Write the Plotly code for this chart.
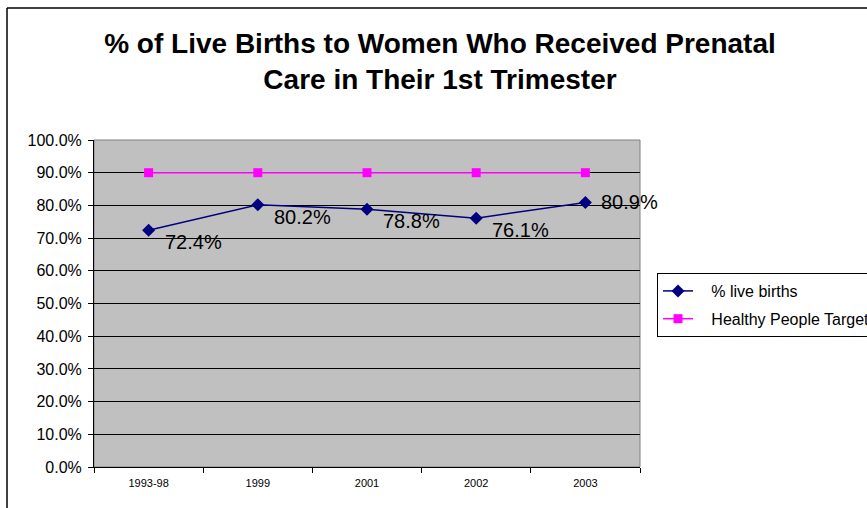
import plotly.graph_objects as go

categories = ["1993-98", "1999", "2001", "2002", "2003"]
live_births = [72.4, 80.2, 78.8, 76.1, 80.9]
target = [90.0, 90.0, 90.0, 90.0, 90.0]
label_dy = [-12, -12, -12, -12, 0]
series_names = ["% live births", "Healthy People Target"]

W, H = 867, 508
L, R, T, B = 94, 227, 140, 41
pw, ph = W - L - R, H - T - B

def px_x(p):
    return (p - L) / pw

def px_y(p):
    return (H - B - p) / ph

pad = "\u00a0" * 3

fig = go.Figure()
fig.add_trace(go.Scatter(
    x=categories, y=live_births, name=pad + series_names[0], mode="lines+markers",
    legendgroup="a",
    line=dict(color="#000080", width=1.5),
    marker=dict(symbol="diamond", size=10, color="#000080"),
))
fig.add_trace(go.Scatter(
    x=categories, y=target, name=pad + series_names[1], mode="lines+markers",
    legendgroup="b",
    line=dict(color="#FF00FF", width=1.5),
    marker=dict(symbol="square", size=9, color="#FF00FF"),
))

for i, (v, dy) in enumerate(zip(live_births, label_dy)):
    fig.add_annotation(x=i, y=v, text=f"{v:.1f}%", showarrow=False,
                       xanchor="left", yanchor="middle", xshift=14, yshift=dy,
                       font=dict(family="Liberation Sans, Arial", size=20, color="black"))

# chart border (left and top)
fig.add_shape(type="line", xref="paper", yref="paper",
              x0=px_x(7), x1=px_x(870), y0=px_y(8), y1=px_y(8),
              line=dict(color="black", width=1.5))
fig.add_shape(type="line", xref="paper", yref="paper",
              x0=px_x(7), x1=px_x(7), y0=px_y(8), y1=px_y(520),
              line=dict(color="black", width=1.5))
# plot area border
fig.add_shape(type="rect", xref="paper", yref="paper", x0=0, x1=1, y0=0, y1=1,
              line=dict(color="#808080", width=1), layer="below")

fig.update_layout(
    width=W, height=H,
    margin=dict(l=L, r=R, t=T, b=B, autoexpand=False),
    paper_bgcolor="white", plot_bgcolor="#C0C0C0",
    font=dict(family="Liberation Sans, Arial", color="black"),
    title=dict(text="<b>% of Live Births to Women Who Received Prenatal<br>Care in Their 1st Trimester</b>",
               x=440 / W, xanchor="center", y=1 - 53 / H, yanchor="top",
               font=dict(size=28, family="Liberation Sans, Arial", color="black")),
    showlegend=True,
    legend=dict(x=px_x(657), y=px_y(273), xanchor="left", yanchor="top",
                bgcolor="white", bordercolor="black", borderwidth=1,
                font=dict(size=16, family="Liberation Sans, Arial", color="black"),
                tracegroupgap=4, traceorder="grouped"),
)
fig.update_xaxes(type="category", tickson="boundaries", ticks="outside", ticklen=5,
                 tickcolor="black", showline=True, linecolor="black", linewidth=1,
                 showgrid=False, tickfont=dict(size=11), range=[-0.5, 4.5],
                 ticklabelstandoff=6)
fig.update_yaxes(range=[0, 100], dtick=10, tickformat=".1f", ticksuffix="%",
                 ticks="outside", ticklen=5, tickcolor="black", showline=True,
                 linecolor="black", linewidth=1, showgrid=True, gridcolor="black",
                 gridwidth=1, tickfont=dict(size=16), zeroline=False,
                 ticklabelstandoff=3)

fig.write_html("out.html", config={"displayModeBar": False},
               post_script="document.body.style.margin='0';")
